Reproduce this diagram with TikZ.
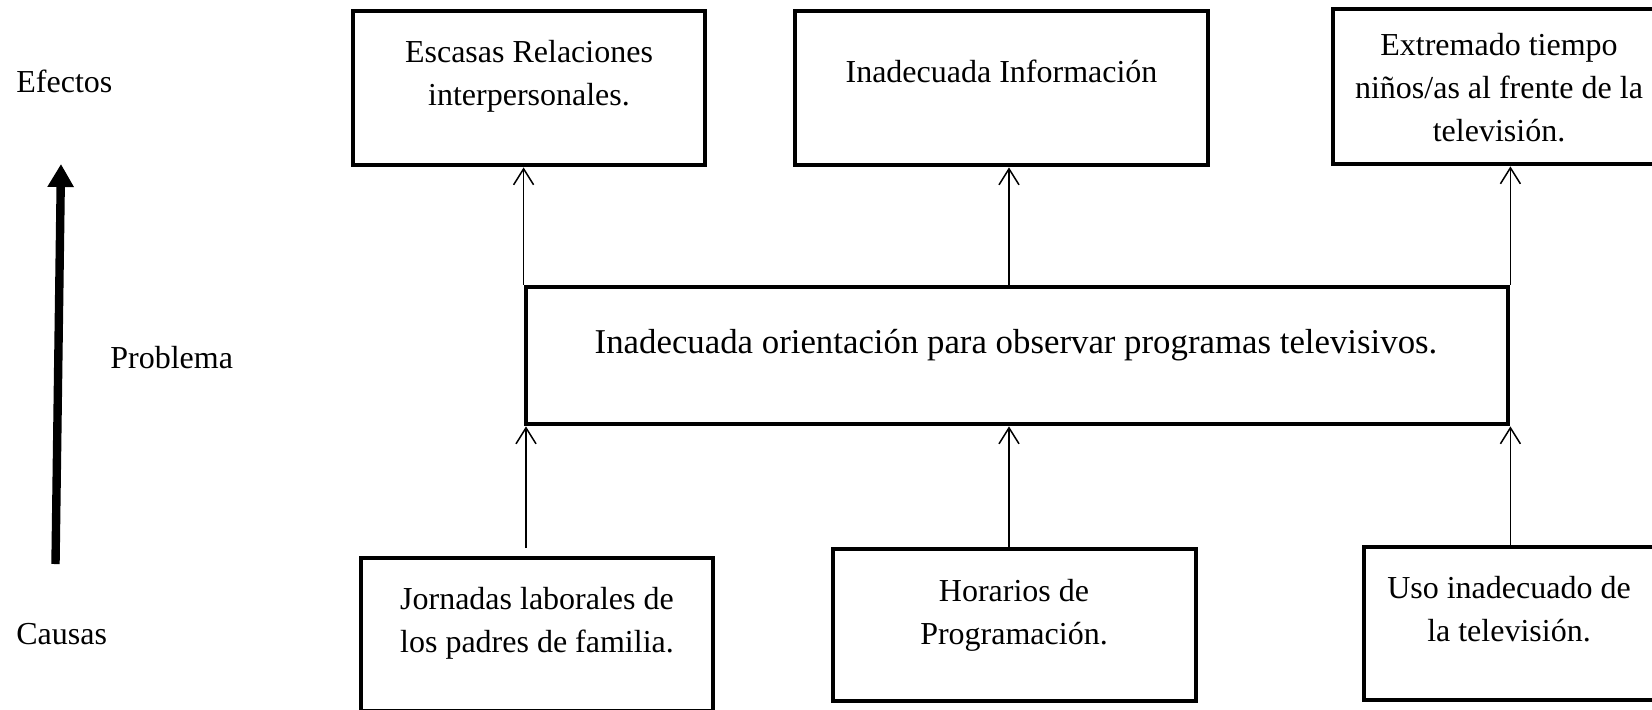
\documentclass[tikz,border=0pt]{standalone}
\usepackage{fontspec}
\setmainfont{Liberation Serif}
\usetikzlibrary{arrows.meta}
\tikzset{
  box/.style={draw, line width=2.4pt, inner sep=0pt, rectangle},
  txt/.style={inner sep=0pt, align=center, anchor=north, font=\fontsize{16}{21.5}\selectfont},
  lbl/.style={inner sep=0pt, anchor=base west, font=\fontsize{16}{21.5}\selectfont},
  conn/.style={line width=0.75pt, -{Straight Barb[length=8pt,width=10pt]}},
  bigarrow/.style={line width=4.2pt, -{Triangle[length=11.5pt,width=12.5pt]}}
}
\begin{document}
\begin{tikzpicture}[x=0.5pt,y=-0.5pt]
\clip (0,0) rectangle (1652,709);
\fill[white] (0,0) rectangle (1652,709);
% side labels
\node[lbl] (efe) at (16,92) {Efectos};
\node[lbl] (pro) at (110,368) {Problema};
\node[lbl] (cau) at (16,644) {Causas};
\coordinate (abot) at (55.5,564);
\coordinate (atop) at (61,164);
\draw[bigarrow] (abot) -- (atop);
% effect boxes
\node[box, minimum width=176pt, minimum height=77pt] (B1) at (529,88) {};
\node[txt] (T1) at (529,32) {\strut Escasas Relaciones\\\strut interpersonales.};
\node[box, minimum width=206.5pt, minimum height=77pt] (B2) at (1001.5,88) {};
\node[txt] (T2) at (1001.5,52) {\strut Inadecuada Información};
\node[box, minimum width=166pt, minimum height=77.5pt] (B3) at (1499,86.5) {};
\node[txt] (T3) at (1499,25) {\strut Extremado tiempo\\\strut niños/as al frente de la\\\strut televisión.};
% problem
\node[box, minimum width=491pt, minimum height=68.5pt] (P) at (1017,355.5) {};
\node[inner sep=0pt, anchor=base, font=\fontsize{17.4}{21.5}\selectfont] (PT) at (1016,353) {Inadecuada orientación para observar programas televisivos.};
% cause boxes
\node[box, minimum width=176pt, minimum height=76.5pt] (B4) at (537,634.5) {};
\node[txt] (T4) at (537,579) {\strut Jornadas laborales de\\\strut los padres de familia.};
\node[box, minimum width=181.5pt, minimum height=76pt] (B5) at (1014.5,625) {};
\node[txt] (T5) at (1014,571) {\strut Horarios de\\\strut Programación.};
\node[box, minimum width=147pt, minimum height=76.5pt] (B6) at (1511,623.5) {};
\node[txt] (T6) at (1509,568) {\strut Uso inadecuado de\\\strut la televisión.};
% connectors
\coordinate (xm) at (1009,0);
\coordinate (j) at (526,548);
\draw[conn] (P.north west) -- (P.north west |- B1.south);
\draw[conn] (P.north -| xm) -- (B2.south -| xm);
\draw[conn] (P.north east) -- (P.north east |- B3.south);
\draw[conn] (j) -- (j |- P.south);
\draw[conn] (B5.north -| xm) -- (P.south -| xm);
\draw[conn] (B6.north -| P.south east) -- (P.south east);
\end{tikzpicture}
\end{document}
